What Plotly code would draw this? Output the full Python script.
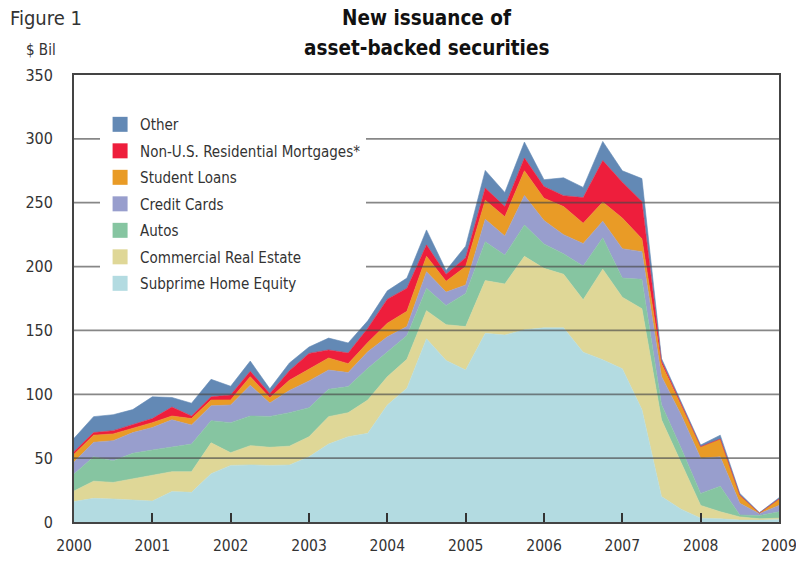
import plotly.graph_objects as go

# Quarterly new issuance, $ billions, 2000Q1 .. 2009Q1
start_year = 2000
n_quarters = 37
quarters = [start_year + 0.25 * i for i in range(n_quarters)]

subprime = [16, 18.5, 18, 17.2, 16.4, 23.8, 23.2, 37.8, 44.3, 44.7, 44.3, 44.6, 51, 61, 66.8, 69.4,
            91.6, 104.7, 143.5, 126.5, 119, 147.7, 146.4, 150.5, 152, 152, 133, 127, 120, 88,
            20, 10, 3, 2.5, 1.5, 1.5, 2]
commercial_re = [8.3, 13.5, 13, 16.5, 20.4, 15.6, 16.2, 24.2, 10, 15.1, 14.2, 14.8, 15.7, 21.5, 18.8, 26.1,
                 22.2, 22.7, 22, 28, 34, 41.3, 40, 57.5, 46.6, 42, 41, 71, 56, 79,
                 60, 36, 10, 5.5, 2.5, 1, 1]
autos = [13.3, 19, 17, 20.1, 19.6, 19.6, 21.6, 17.3, 23.5, 23.2, 24.2, 26.2, 22.7, 21.5, 20.4, 24.8,
         19.5, 18.6, 17.5, 15, 26, 30.5, 22.6, 24.6, 19.1, 16, 26.5, 24.5, 15, 23,
         12, 12, 9.4, 20, 1.5, 2.5, 5]
credit_cards = [9.4, 11.4, 15.7, 16.2, 17.6, 21, 15, 11.7, 13.8, 24, 10.5, 17.4, 21.1, 15, 11, 13,
                11.7, 7, 13, 10.5, 6.6, 17.5, 15, 23.1, 18.3, 15, 17.5, 13, 23, 21.7,
                22, 26, 27.6, 23, 9.1, 1.5, 5]
student_loans = [6, 5.6, 5.3, 3.3, 3.8, 3, 5, 4.5, 4, 6.8, 4.1, 8, 9, 9.4, 7, 7.2,
                 10.6, 12, 12, 8.5, 14.4, 15, 15, 19.3, 17.5, 22, 16, 15, 24, 10,
                 10, 8, 9, 14, 6.4, 0.5, 5]
non_us_resi = [2, 2, 2.5, 2.7, 3.2, 7, 2, 2.5, 3.9, 4.2, 3.2, 7.5, 12.5, 6.3, 8.3, 11.2,
               18.9, 18, 9, 5.5, 7, 9.5, 8, 10, 9.1, 8.5, 20, 32.5, 28, 29.2,
               2, 0.5, 0, 0, 0, 0, 0]
other = [10.5, 12.5, 12.5, 12, 17, 7.5, 10, 13.7, 6.8, 8, 3.8, 6, 5, 9.3, 7.9, 5.8,
         6.5, 8, 11.7, 3, 9, 13.8, 11, 12.5, 5.4, 14, 8, 15, 9, 18,
         2, 1.5, 1.3, 3, 1.4, 0.3, 1]

series = [
    ("Subprime Home Equity", subprime, "#b3dbe1"),
    ("Commercial Real Estate", commercial_re, "#dfd797"),
    ("Autos", autos, "#86c5a1"),
    ("Credit Cards", credit_cards, "#989ecd"),
    ("Student Loans", student_loans, "#e99b26"),
    ("Non-U.S. Residential Mortgages*", non_us_resi, "#ee1e3c"),
    ("Other", other, "#6389b5"),
]

year_ticks = list(range(2000, 2010))
y_ticks = list(range(0, 351, 50))
grid_vals = list(range(50, 301, 50))

FONT = "DejaVu Sans Condensed, Liberation Sans Narrow, sans-serif"
TXT = "#333333"

fig = go.Figure()
for name, vals, col in series:
    fig.add_trace(go.Scatter(
        x=quarters, y=vals, name=name, stackgroup="one", mode="lines",
        line=dict(width=0.6, color=col), fillcolor=col, showlegend=False,
        hoverinfo="x+y+name",
    ))
# legend swatches (top of stack listed first)
for name, vals, col in reversed(series):
    fig.add_trace(go.Scatter(
        x=[None], y=[None], name=name, mode="markers", legendgroup=name,
        marker=dict(symbol="square", size=15, color=col), showlegend=True,
    ))

shapes = [dict(type="line", xref="paper", x0=0, x1=1, yref="y", y0=g, y1=g,
               line=dict(color="rgba(70,70,70,0.65)", width=1.8), layer="above")
          for g in grid_vals]

fig.update_layout(
    template="none",
    width=796, height=561,
    margin=dict(l=74, r=17, t=75, b=39, autoexpand=False),
    paper_bgcolor="white", plot_bgcolor="white",
    font=dict(family=FONT, size=16, color=TXT),
    showlegend=True,
    legend=dict(x=0.037, y=0.926, xanchor="left", yanchor="top",
                traceorder="grouped", tracegroupgap=4,
                bgcolor="white", borderwidth=0, font=dict(size=15, color=TXT),
                itemclick=False),
    shapes=shapes,
    annotations=[
        dict(text="<b>New issuance of</b>", xref="paper", yref="paper",
             x=0.5, y=1.0, yshift=57, xanchor="center", yanchor="middle", showarrow=False,
             font=dict(size=20.5, color="#111111", family=FONT)),
        dict(text="<b>asset-backed securities</b>", xref="paper", yref="paper",
             x=0.5, y=1.0, yshift=27, xanchor="center", yanchor="middle", showarrow=False,
             font=dict(size=20.5, color="#111111", family=FONT)),
        dict(text="Figure 1", xref="paper", yref="paper", x=-0.094, y=1.0, yshift=57,
             xanchor="left", yanchor="middle", showarrow=False, font=dict(size=20, color=TXT)),
        dict(text="$ Bil", xref="paper", yref="paper", x=-0.047, y=1.0, yshift=25,
             xanchor="center", yanchor="middle", showarrow=False, font=dict(size=15, color=TXT)),
    ],
)
fig.update_xaxes(range=[2000, 2009], tickvals=year_ticks, ticktext=[str(y) for y in year_ticks],
                 ticks="inside", ticklen=9, tickwidth=1.5, tickcolor="#333",
                 showline=True, linecolor="#444", linewidth=1.8, mirror=True,
                 showgrid=False, zeroline=False, tickfont=dict(size=15.5, color=TXT),
                 ticklabelstandoff=8, ticklabeloverflow="allow", automargin=False,
                 fixedrange=True)
fig.update_yaxes(range=[0, 350], tickvals=y_ticks, ticks="",
                 showline=True, linecolor="#444", linewidth=1.8, mirror=True,
                 showgrid=False, zeroline=False, tickfont=dict(size=16, color=TXT),
                 ticklabelstandoff=16, automargin=False, fixedrange=True)

# the page's default body margin would offset the 796x561 figure; remove it
fig.write_html(
    "out.html",
    config={"displayModeBar": False},
    post_script="document.body.style.margin='0px';document.body.style.overflow='hidden';",
)
